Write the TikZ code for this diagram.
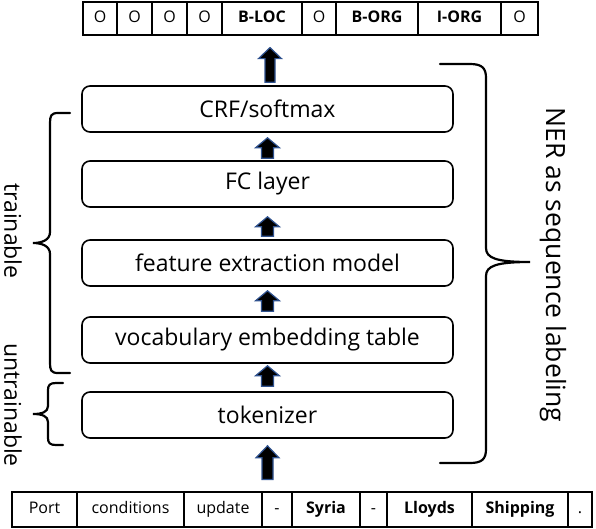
\documentclass[tikz,border=0pt]{standalone}
\usepackage{fontspec}
\setmainfont{Open Sans}
\usetikzlibrary{calc}
\definecolor{arrowblue}{RGB}{47,82,143}
\newcommand{\blk}[5]{%
  \draw[blockarrow] let \p1=(#1), \p2=(#2) in
  (\x1-#3pt,\y1) -- (\x1+#3pt,\y1) -- (\x1+#3pt,\y2-#5pt) -- (\x1+#4pt,\y2-#5pt)
  -- (\x1,\y2) -- (\x1-#4pt,\y2-#5pt) -- (\x1-#3pt,\y2-#5pt) -- cycle;}
\begin{document}
\begin{tikzpicture}[x=1pt,y=-1pt,
  layer/.style={draw, line width=1.6pt, rounded corners=8pt, minimum width=371pt,
    minimum height=46pt, inner sep=0pt, font=\fontsize{23}{26}\selectfont},
  cell/.style={draw, line width=1.2pt, inner sep=0pt, text height=12pt, text depth=3.5pt,
    font=\fontsize{16}{18}\selectfont},
  blockarrow/.style={fill=black, draw=arrowblue, line width=1.2pt, line join=miter},
  brace/.style={draw, line width=2.2pt, line cap=round},
  sidetext/.style={rotate=-90, inner sep=0pt}]
\useasboundingbox (0,0) rectangle (596,528);

% output tags
\foreach \xa/\xb/\txt/\ff [count=\i] in {83/117/O/{},117/152/O/{},152/187/O/{},187/222/O/{},
  222/302/B-LOC/\bfseries,302/336/O/{},336/418/B-ORG/\bfseries,418/501/I-ORG/\bfseries,501/538/O/{}}
  \node[cell, minimum width={(\xb-\xa)*1pt}, minimum height=33pt] (t\i) at ({(\xa+\xb)/2},18.5) {\ff\txt};

% input tokens
\foreach \xa/\xb/\txt/\ff [count=\i] in {12/77/Port/{},77/184/conditions/{},184/262/update/{},262/292/-/{},
  292/360/Syria/\bfseries,360/387/-/{},387/472/Lloyds/\bfseries,472/568/Shipping/\bfseries,568/592/./{}}
  \node[cell, minimum width={(\xb-\xa)*1pt}, minimum height=35pt] (b\i) at ({(\xa+\xb)/2},509.5) {\ff\txt};

% layers
\node[layer] (crf) at (267.5,109) {CRF/softmax};
\node[layer] (fc) at (267.5,184) {FC layer};
\node[layer] (feat) at (267.5,263) {feature extraction model};
\node[layer] (vocab) at (267.5,340) {vocabulary embedding table};
\node[layer] (tok) at (267.5,415) {tokenizer};

% block arrows
\blk{$(tok.south |- b1.north)+(0,-12)$}{$(tok.south)+(0,7)$}{5.5}{11.5}{12}
\blk{$(tok.north)+(0,-5)$}{$(vocab.south)+(0,2)$}{6}{12}{10}
\blk{$(vocab.north)+(0,-5)$}{$(feat.south)+(0,4)$}{6}{12}{10}
\blk{$(feat.north)+(0,-3)$}{$(fc.south)+(0,9)$}{6}{12}{10}
\blk{$(fc.north)+(0,-2)$}{$(crf.south)+(0,5)$}{6}{12}{10}
\blk{$(crf.north)+(2.5,-3)$}{$(crf.north |- t1.south)+(2.5,12)$}{5}{11.5}{11}

% left braces
\draw[brace] (70,113) -- (58,113) .. controls (51,113) and (50,116) .. (50,123) -- (50,232)
  .. controls (50,240) and (42,243) .. (33,243) .. controls (42,243) and (50,246) .. (50,254)
  -- (50,363) .. controls (50,370) and (51,373) .. (58,373) -- (70,373);
\draw[brace] (63,383) -- (56,383) .. controls (50,383) and (48,385) .. (48,390) -- (48,406)
  .. controls (48,412) and (42,414) .. (33,414) .. controls (42,414) and (48,416) .. (48,422)
  -- (48,438) .. controls (48,443) and (50,445) .. (56,445) -- (63,445);
% right brace
\draw[brace] (440,64) -- (470,64) .. controls (482,64) and (486,68) .. (486,78) -- (486,248)
  .. controls (486,258) and (496,262) .. (530,262) .. controls (496,262) and (486,266) .. (486,276)
  -- (486,449) .. controls (486,459) and (482,463) .. (470,463) -- (440,463);

% side labels
\node[sidetext, font=\fontsize{23}{26}\selectfont] (trn) at (13,231) {trainable};
\node[sidetext, font=\fontsize{23}{26}\selectfont] (untrn) at (13,405) {untrainable};
\node[sidetext, font=\fontsize{26.5}{28}\selectfont] (ner) at (553,265) {NER as sequence labeling};
\end{tikzpicture}
\end{document}
